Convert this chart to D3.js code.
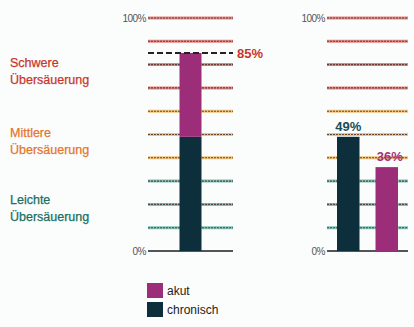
<!DOCTYPE html>
<html>
<head>
<meta charset="utf-8">
<script src="https://cdn.jsdelivr.net/npm/d3@7"></script>
<style>
  html, body { margin: 0; padding: 0; background: #fbfcfc; }
  svg { display: block; font-family: "Liberation Sans", Arial, sans-serif; }
</style>
</head>
<body>
<svg id="chart" width="414" height="327"></svg>
<script>
// Severity bands of acidification (left labels); "at" is the scale value of the first text line
const bandLabels = [
  { name: "Schwere", at: 79, color: "#c8372d" },
  { name: "Mittlere", at: 49, color: "#e4762c" },
  { name: "Leichte", at: 20, color: "#18705f" }
];
const gridValues = [0, 10, 20, 30, 40, 50, 60, 70, 80, 90, 100];

// Stacked total (left) and separate values (right)
const stackKeys = ["chronisch", "akut"];
const totalRow = { category: "gesamt", chronisch: 49, akut: 36 };
const totalValue = 85;
const sideCategories = ["chronisch", "akut"];
const sideValues = [49, 36];

const colors = { akut: "#9c2d78", chronisch: "#0c2f3b" };
const labelColors = { akut: "#a3317c", chronisch: "#184c5a", total: "#c8372d" };

const svg = d3.select("#chart");
const y = d3.scaleLinear().domain([0, 100]).range([251, 18]);

function haloColor(v) {
  if (v >= 70) return "#d9564c";
  if (v >= 40) return "#eeaa45";
  return "#4fa898";
}

function drawGrid(x0, x1) {
  const g = svg.append("g");
  const inner = gridValues.filter(d => d > 0);
  // coloured halo under each grid line
  g.selectAll("line.halo").data(inner).join("line")
    .attr("x1", x0).attr("x2", x1)
    .attr("y1", d => y(d)).attr("y2", d => y(d))
    .attr("stroke", haloColor)
    .attr("stroke-width", 3)
    .attr("opacity", 0.7);
  // dark dotted core
  g.selectAll("line.core").data(inner).join("line")
    .attr("x1", x0).attr("x2", x1)
    .attr("y1", d => y(d)).attr("y2", d => y(d))
    .attr("stroke", "#4a3434")
    .attr("stroke-width", 1.1)
    .attr("stroke-dasharray", "2,1")
    .attr("opacity", 0.85);
  // baseline
  g.append("line")
    .attr("x1", x0).attr("x2", x1)
    .attr("y1", y(0)).attr("y2", y(0))
    .attr("stroke", "#1e1e1e").attr("stroke-width", 1.6);
  // axis end labels
  const axis = d3.axisLeft(y).tickValues([0, 100]).tickSize(0).tickPadding(2)
    .tickFormat(d => d + "%");
  const ag = svg.append("g").attr("transform", `translate(${x0},0)`).call(axis);
  ag.select(".domain").remove();
  ag.selectAll("text").attr("font-size", 10).attr("fill", "#555").attr("letter-spacing", "-0.5");
}

// ---------- Left panel: stacked total ----------
drawGrid(148, 233);

const xLeft = d3.scaleBand().domain(["gesamt"]).range([148, 233]).padding(0.589);
const stacked = d3.stack().keys(stackKeys)([totalRow]);
svg.append("g").selectAll("rect").data(stacked).join("rect")
  .attr("x", xLeft("gesamt"))
  .attr("width", xLeft.bandwidth())
  .attr("y", d => y(d[0][1]))
  .attr("height", d => y(d[0][0]) - y(d[0][1]))
  .attr("fill", d => colors[d.key]);

// dashed line marking the total
svg.append("line")
  .attr("x1", 148).attr("x2", 233)
  .attr("y1", y(totalValue)).attr("y2", y(totalValue))
  .attr("stroke", "#2a1e22").attr("stroke-width", 2)
  .attr("stroke-dasharray", "6,3");
svg.append("text")
  .attr("x", 237).attr("y", y(totalValue) + 5)
  .attr("font-size", 13).attr("font-weight", "bold")
  .attr("fill", labelColors.total)
  .text(totalValue + "%");

// band labels, two lines each
bandLabels.forEach(b => {
  const base = y(b.at);
  const t = svg.append("text").attr("fill", b.color).attr("font-size", 12.5)
    .attr("stroke", b.color).attr("stroke-width", 0.25);
  t.append("tspan").attr("x", 10).attr("y", base).text(b.name);
  t.append("tspan").attr("x", 10).attr("y", base + 17).text("Übersäuerung");
});

// ---------- Right panel: separate bars ----------
drawGrid(327, 408);

const xRight = d3.scaleBand().domain(sideCategories).range([327, 408])
  .paddingInner(0.416).paddingOuter(0.26);
svg.append("g").selectAll("rect").data(sideCategories).join("rect")
  .attr("x", d => xRight(d))
  .attr("width", xRight.bandwidth())
  .attr("y", (d, i) => y(sideValues[i]))
  .attr("height", (d, i) => y(0) - y(sideValues[i]))
  .attr("fill", d => colors[d]);
svg.append("g").selectAll("text").data(sideCategories).join("text")
  .attr("x", d => xRight(d) + xRight.bandwidth() / 2 + (d === "akut" ? 3 : 0))
  .attr("y", (d, i) => y(sideValues[i]) - 6)
  .attr("text-anchor", "middle")
  .attr("font-size", 13).attr("font-weight", "bold")
  .attr("fill", d => labelColors[d])
  .text((d, i) => sideValues[i] + "%");

// ---------- Legend ----------
const legendKeys = ["akut", "chronisch"];
const lg = svg.append("g").attr("transform", "translate(147,283)");
const item = lg.selectAll("g").data(legendKeys).join("g")
  .attr("transform", (d, i) => `translate(0,${i * 19})`);
item.append("rect").attr("width", 16).attr("height", 15).attr("fill", d => colors[d]);
item.append("text").attr("x", 20).attr("y", 12)
  .attr("font-size", 12).attr("fill", "#222").text(d => d);
</script>
</body>
</html>
